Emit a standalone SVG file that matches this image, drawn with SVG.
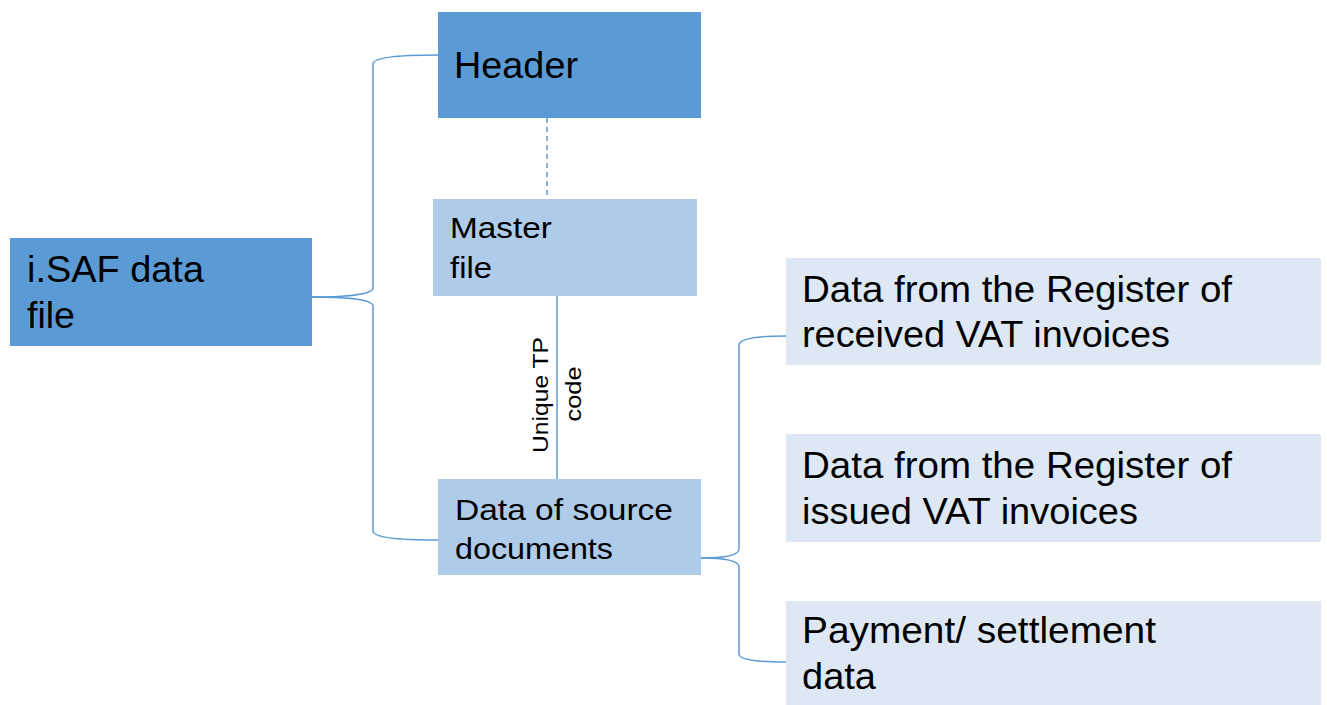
<svg xmlns="http://www.w3.org/2000/svg" width="1327" height="705" viewBox="0 0 1327 705">
<style>
.dark{fill:#5b9bd5}
.mid{fill:#aecbea}
.light{fill:#dde8f4}
text{font-family:"Liberation Sans",Arial,sans-serif;fill:#000}
.big{font-size:36px}
.med{font-size:29px}
.sm{font-size:22px}
.conn{fill:none;stroke:#5b9bd5;stroke-width:1.5}
</style>
<rect width="1327" height="705" fill="#ffffff"/>
<g id="connectors">
<path class="conn" d="M312,297 C340,297 373,295 373,288 L373,64 C373,57 405,55 438,55"/>
<path class="conn" d="M312,297 C340,297 373,299 373,306 L373,531 C373,538 405,540 438,540"/>
<path class="conn" d="M701,558 C720,558 739,556 739,549 L739,345 C739,338 760,336 786,336"/>
<path class="conn" d="M701,558 C720,558 739,560 739,567 L739,654 C739,660 760,662 786,662"/>
<line class="conn" x1="547" y1="118" x2="547" y2="199" stroke-dasharray="5,4"/>
<line class="conn" x1="557" y1="296" x2="557" y2="479"/>
<text class="sm" transform="translate(548,395) rotate(-90)" text-anchor="middle" textLength="116" lengthAdjust="spacingAndGlyphs">Unique TP</text>
<text class="sm" transform="translate(581,394) rotate(-90)" text-anchor="middle" textLength="55" lengthAdjust="spacingAndGlyphs">code</text>
</g>
<g id="isaf">
<rect class="dark" x="10" y="238" width="302" height="108"/>
<text class="big" x="27" y="282" textLength="177" lengthAdjust="spacingAndGlyphs">i.SAF data</text>
<text class="big" x="27" y="328" textLength="48" lengthAdjust="spacingAndGlyphs">file</text>
</g>
<g id="header">
<rect class="dark" x="438" y="12" width="263" height="106"/>
<text class="big" x="454" y="78" textLength="124" lengthAdjust="spacingAndGlyphs">Header</text>
</g>
<g id="master">
<rect class="mid" x="433" y="199" width="264" height="97"/>
<text class="med" x="450" y="238" textLength="102" lengthAdjust="spacingAndGlyphs">Master</text>
<text class="med" x="450" y="278" textLength="42" lengthAdjust="spacingAndGlyphs">file</text>
</g>
<g id="source">
<rect class="mid" x="438" y="479" width="263" height="96"/>
<text class="med" x="455" y="520" textLength="218" lengthAdjust="spacingAndGlyphs">Data of source</text>
<text class="med" x="455" y="559" textLength="158" lengthAdjust="spacingAndGlyphs">documents</text>
</g>
<g id="received">
<rect class="light" x="786" y="258" width="535" height="107"/>
<text class="big" x="802" y="302" textLength="430" lengthAdjust="spacingAndGlyphs">Data from the Register of</text>
<text class="big" x="802" y="347" textLength="368" lengthAdjust="spacingAndGlyphs">received VAT invoices</text>
</g>
<g id="issued">
<rect class="light" x="786" y="434" width="535" height="108"/>
<text class="big" x="802" y="478" textLength="430" lengthAdjust="spacingAndGlyphs">Data from the Register of</text>
<text class="big" x="802" y="524" textLength="336" lengthAdjust="spacingAndGlyphs">issued VAT invoices</text>
</g>
<g id="payment">
<rect class="light" x="786" y="601" width="535" height="104"/>
<text class="big" x="802" y="643" textLength="354" lengthAdjust="spacingAndGlyphs">Payment/ settlement</text>
<text class="big" x="802" y="689" textLength="74" lengthAdjust="spacingAndGlyphs">data</text>
</g>
</svg>
